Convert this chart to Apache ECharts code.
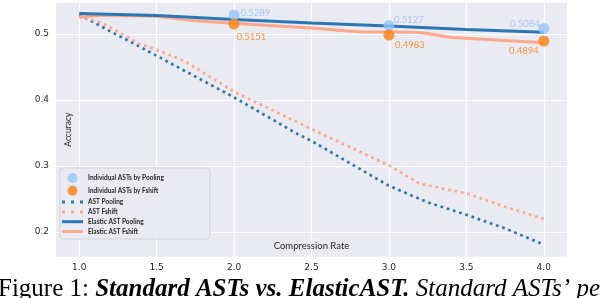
<!DOCTYPE html>
<html>
<head>
<meta charset="utf-8">
<script src="https://cdn.jsdelivr.net/npm/echarts@6/dist/echarts.min.js"></script>
<style>
html,body{margin:0;padding:0;background:#fff;}
#chart{width:602px;height:298px;}
</style>
</head>
<body>
<div id="chart"></div>
<script>
// ---- data ----
var xTicks = [1.0, 1.5, 2.0, 2.5, 3.0, 3.5, 4.0];
var yTicks = [0.2, 0.3, 0.4, 0.5];
var indivX = [2.0, 3.0, 4.0];
var indivPooling = [0.5289, 0.5127, 0.5084];
var indivFshift = [0.5151, 0.4983, 0.4894];
var astPoolingX = [1.0, 1.1, 1.2, 1.3, 1.5, 2.0, 2.41, 2.5, 3.0, 3.25, 3.5, 3.75, 4.0];
var astPoolingY = [0.529, 0.517, 0.504, 0.492, 0.467, 0.404, 0.3485, 0.338, 0.270, 0.245, 0.226, 0.2056, 0.181];
var astFshiftX = [1.0, 1.14, 1.26, 1.38, 1.5, 1.68, 2.0, 2.5, 3.0, 3.2, 3.5, 3.75, 4.0];
var astFshiftY = [0.527, 0.517, 0.5025, 0.486, 0.476, 0.459, 0.4126, 0.356, 0.301, 0.273, 0.2586, 0.2383, 0.2197];
var elPoolingX = [1.0, 1.5, 2.0, 2.5, 3.0, 3.5, 4.0];
var elPoolingY = [0.531, 0.528, 0.522, 0.5165, 0.512, 0.507, 0.5025];
var elFshiftX = [1.0, 1.15, 1.5, 1.75, 2.0, 2.5, 2.8, 3.0, 3.2, 3.4, 3.5, 4.0];
var elFshiftY = [0.525, 0.528, 0.5265, 0.520, 0.5162, 0.509, 0.5035, 0.503, 0.502, 0.495, 0.4935, 0.4868];
var seriesNames = ['Individual ASTs by Pooling', 'Individual ASTs by Fshift', 'AST Pooling', 'AST Fshift', 'Elastic AST Pooling', 'Elastic AST Fshift'];

function zip(xs, ys) { return xs.map(function (x, i) { return [x, ys[i]]; }); }

var lightBlue = '#92c6f7';
var orange = '#ff7f0e';
var blue = '#2a77b4';
var salmon = '#fca88a';

var poolLabelOpts = [
  {position: 'right', offset: [-4, -1.5]},
  {position: 'right', offset: [-5.5, -5.6]},
  {position: 'left', offset: [6.5, -5]}
];
var fshiftLabelOpts = [
  {position: 'right', offset: [-8, 13]},
  {position: 'right', offset: [-4.5, 10]},
  {position: 'left', offset: [5.5, 10]}
];
function labeled(xs, ys, opts) {
  return xs.map(function (x, i) {
    return {value: [x, ys[i]], label: opts[i]};
  });
}

var dotIcon = 'path://M0,0h3v3h-3zM9,0h3v3h-3zM18,0h3v3h-3z';
var solidIcon = 'path://M0,0h21v3h-21z';

var chart = echarts.init(document.getElementById('chart'), null, {renderer: 'canvas'});
var tickFont = 'DejaVu Sans';
var option = {
  animation: false,
  backgroundColor: '#ffffff',
  grid: {
    left: 56, right: 35, top: 2.65, height: 254.1,
    show: true, backgroundColor: '#eaeaf2', borderWidth: 0
  },
  xAxis: {
    type: 'value', min: 0.85, max: 4.15,
    name: 'Compression Rate', nameLocation: 'middle', nameGap: -10.5, nameMoveOverlap: false,
    nameTextStyle: {fontFamily: 'Lato', fontSize: 9.5, color: '#262626', verticalAlign: 'middle'},
    axisLine: {show: false}, axisTick: {show: false, customValues: xTicks},
    axisLabel: {customValues: xTicks, fontFamily: tickFont, fontSize: 9, color: '#262626', margin: 6,
      formatter: function (v) { return v.toFixed(1); }},
    splitLine: {show: true, customValues: xTicks, lineStyle: {color: '#ffffff', width: 1.2}}
  },
  yAxis: {
    type: 'value', min: 0.1625, max: 0.5475,
    name: 'Accuracy', nameLocation: 'middle', nameGap: -12, nameMoveOverlap: false,
    nameTextStyle: {fontFamily: 'Lato', fontSize: 8.5, color: '#262626', verticalAlign: 'middle'},
    axisLine: {show: false}, axisTick: {show: false, customValues: yTicks},
    axisLabel: {customValues: yTicks, fontFamily: tickFont, fontSize: 9, color: '#262626', margin: 7,
      formatter: function (v) { return v.toFixed(1); }},
    splitLine: {show: true, customValues: yTicks, lineStyle: {color: '#ffffff', width: 1.2}}
  },
  legend: {
    orient: 'vertical', left: 60, top: 168,
    data: [
      {name: seriesNames[0], icon: 'circle'},
      {name: seriesNames[1], icon: 'circle'},
      {name: seriesNames[2], icon: dotIcon},
      {name: seriesNames[3], icon: dotIcon},
      {name: seriesNames[4], icon: solidIcon},
      {name: seriesNames[5], icon: solidIcon}
    ],
    symbolKeepAspect: true,
    itemWidth: 21, itemHeight: 10, itemGap: 2.8,
    padding: [5, 46, 4, 2],
    backgroundColor: 'rgba(234,234,242,0.85)',
    borderColor: '#d3d3db', borderWidth: 1, borderRadius: 3,
    textStyle: {fontFamily: 'Lato', fontSize: 6.5, color: '#262626', fontWeight: 'bold'}
  },
  series: [
    {
      name: seriesNames[0], type: 'scatter', symbol: 'circle', symbolSize: 11, z: 10,
      itemStyle: {color: lightBlue},
      label: {show: true, color: lightBlue, fontFamily: 'Lato', fontSize: 9.5,
        formatter: function (p) { return p.value[1].toFixed(4); }},
      data: labeled(indivX, indivPooling, poolLabelOpts)
    },
    {
      name: seriesNames[1], type: 'scatter', symbol: 'circle', symbolSize: 11, z: 10,
      itemStyle: {color: orange},
      label: {show: true, color: orange, fontFamily: 'Lato', fontSize: 9.5,
        formatter: function (p) { return p.value[1].toFixed(4); }},
      data: labeled(indivX, indivFshift, fshiftLabelOpts)
    },
    {
      name: seriesNames[2], type: 'line', symbol: 'none', z: 3,
      lineStyle: {color: blue, width: 2.7, type: [2.7, 3.8], cap: 'butt'},
      itemStyle: {color: blue},
      data: zip(astPoolingX, astPoolingY)
    },
    {
      name: seriesNames[3], type: 'line', symbol: 'none', z: 3,
      lineStyle: {color: salmon, width: 2.7, type: [2.7, 3.8], cap: 'butt'},
      itemStyle: {color: salmon},
      data: zip(astFshiftX, astFshiftY)
    },
    {
      name: seriesNames[4], type: 'line', symbol: 'none', z: 5,
      lineStyle: {color: blue, width: 3},
      itemStyle: {color: blue},
      data: zip(elPoolingX, elPoolingY)
    },
    {
      name: seriesNames[5], type: 'line', symbol: 'none', z: 4, smooth: 0.3,
      lineStyle: {color: salmon, width: 3},
      itemStyle: {color: salmon},
      data: zip(elFshiftX, elFshiftY)
    }
  ],
  graphic: [
    {
      type: 'text', left: -2, top: 277, z: 100,
      style: {
        text: '{r|Figure 1: }{b|Standard ASTs vs. ElasticAST.}{i| Standard ASTs’ pe}',
        rich: {
          r: {fontFamily: 'Liberation Serif', fontSize: 25, color: '#000', lineHeight: 25},
          b: {fontFamily: 'Liberation Serif', fontSize: 25, fontWeight: 'bold', fontStyle: 'italic', color: '#000', lineHeight: 25},
          i: {fontFamily: 'Liberation Serif', fontSize: 25, fontStyle: 'italic', color: '#000', lineHeight: 25}
        }
      }
    }
  ]
};
chart.setOption(option);
</script>
</body>
</html>
